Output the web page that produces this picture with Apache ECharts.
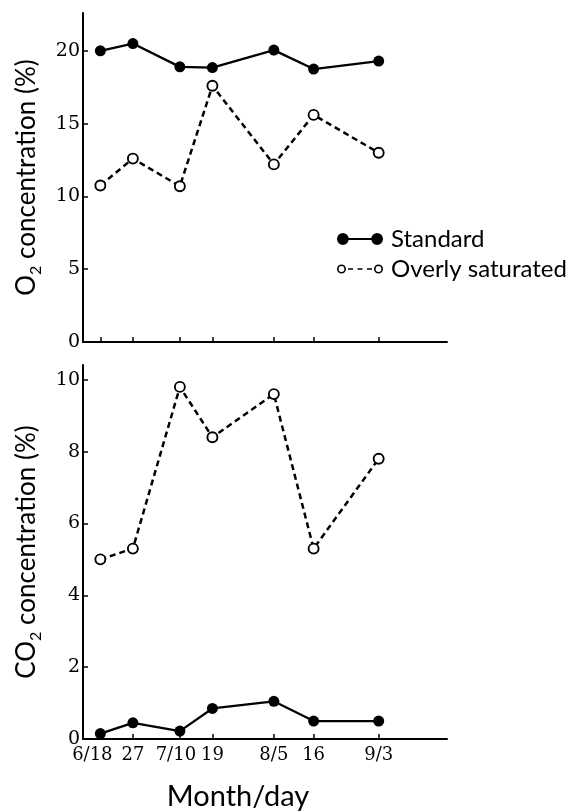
<!DOCTYPE html>
<html>
<head>
<meta charset="utf-8">
<script src="https://cdn.jsdelivr.net/npm/echarts@6/dist/echarts.min.js"></script>
<style>
  html, body { margin: 0; padding: 0; background: #fff; }
  #chart { width: 568px; height: 812px; }
</style>
</head>
<body>
<div id="chart"></div>
<script>
// Sampling dates (days counted from 6/18) and their axis labels
const sampleDays = [0, 9, 22, 31, 48, 59, 77];
const dateLabels = ['6/18', '27', '7/10', '19', '8/5', '16', '9/3'];

// O2 concentration (%)
const o2Standard = [20.0, 20.5, 18.9, 18.85, 20.05, 18.75, 19.3];
const o2Saturated = [10.75, 12.6, 10.7, 17.6, 12.2, 15.6, 13.0];

// CO2 concentration (%)
const co2Standard = [0.15, 0.45, 0.22, 0.85, 1.05, 0.5, 0.5];
const co2Saturated = [5.0, 5.3, 9.8, 8.4, 9.6, 5.3, 7.8];

// Tick values on the two y axes
const o2Ticks = [0, 5, 10, 15, 20];
const co2Ticks = [0, 2, 4, 6, 8, 10];

const SERIF = 'DejaVu Serif';
const SANS = 'Lato';

const pairs = (ys) => sampleDays.map((d, i) => [d, ys[i]]);

// Month-start labels sit a little left of their tick
const shiftLeft = { '6/18': 'a', '7/10': 'b' };
const dateLabelOf = (v) => {
  const i = sampleDays.indexOf(v);
  if (i < 0) return '';
  const txt = dateLabels[i];
  return shiftLeft[txt] ? '{' + shiftLeft[txt] + '|' + txt + '}' : '{n|' + txt + '}';
};

const axisLine = { show: true, onZero: false, lineStyle: { color: '#000', width: 2 } };
const tickStyle = { inside: true, length: 5, lineStyle: { color: '#000', width: 1.5 } };
const serifLabel = { fontFamily: SERIF, fontSize: 18, color: '#000' };

function xAxisFor(gridIndex, withLabels) {
  return {
    type: 'value', gridIndex, min: -4.8, max: 95.9,
    axisLine,
    splitLine: { show: false },
    axisTick: Object.assign({ customValues: sampleDays }, tickStyle),
    axisLabel: {
      show: withLabels, customValues: sampleDays, formatter: dateLabelOf,
      color: '#000', fontFamily: SERIF, fontSize: 18, margin: 7,
      rich: {
        n: serifLabel,
        a: Object.assign({ padding: [0, 16, 0, 0] }, serifLabel),
        b: Object.assign({ padding: [0, 8, 0, 0] }, serifLabel)
      }
    },
    name: withLabels ? 'Month/day' : '',
    nameLocation: 'middle', nameGap: 43,
    nameTextStyle: { color: '#000', fontFamily: SANS, fontSize: 29, padding: [0, 54, 0, 0] }
  };
}

function yAxisFor(gridIndex, max, ticks, gas) {
  return {
    type: 'value', gridIndex, min: 0, max,
    axisLine,
    splitLine: { show: false },
    axisTick: Object.assign({ customValues: ticks }, tickStyle),
    axisLabel: {
      customValues: ticks, color: '#000', fontFamily: SERIF, fontSize: 19, margin: 3
    },
    name: '{t|' + gas + '}{s|2}{t| concentration (%)}',
    nameLocation: 'middle', nameRotate: 90, nameGap: 39,
    nameTextStyle: {
      color: '#000',
      rich: {
        t: { fontFamily: SANS, fontSize: 26, lineHeight: 34, color: '#000' },
        s: { fontFamily: SANS, fontSize: 16, lineHeight: 16, verticalAlign: 'bottom', color: '#000' }
      }
    }
  };
}

function standardSeries(xi, yi, data) {
  return {
    name: 'Standard', type: 'line', xAxisIndex: xi, yAxisIndex: yi,
    data: pairs(data),
    symbol: 'circle', symbolSize: 11,
    itemStyle: { color: '#000' },
    lineStyle: { color: '#000', width: 2.3 },
    emphasis: { disabled: true }, z: 3
  };
}

function saturatedSeries(xi, yi, data) {
  return {
    name: 'Overly saturated', type: 'line', xAxisIndex: xi, yAxisIndex: yi,
    data: pairs(data),
    symbol: 'circle', symbolSize: 10,
    itemStyle: { color: '#fff', borderColor: '#000', borderWidth: 1.9 },
    lineStyle: { color: '#000', width: 2.5, type: [6, 4] },
    emphasis: { disabled: true }, z: 2
  };
}

// Legend icons: solid line between two filled dots, dashed line between two rings
const iconSolid = 'path://M0.5,6A5.5,5.5 0 1,1 11.5,6A5.5,5.5 0 1,1 0.5,6Z' +
  'M32.5,6A5.5,5.5 0 1,1 43.5,6A5.5,5.5 0 1,1 32.5,6Z' +
  'M6,5L38,5L38,7L6,7Z';
const iconDashed = 'path://M0,6A4.5,4.5 0 1,1 9,6A4.5,4.5 0 1,1 0,6Z' +
  'M1.6,6A2.9,2.9 0 1,0 7.4,6A2.9,2.9 0 1,0 1.6,6Z' +
  'M37,6A4.5,4.5 0 1,1 46,6A4.5,4.5 0 1,1 37,6Z' +
  'M38.6,6A2.9,2.9 0 1,0 44.4,6A2.9,2.9 0 1,0 38.6,6Z' +
  'M11,5.2L16,5.2L16,6.8L11,6.8Z' +
  'M20.5,5.2L25.5,5.2L25.5,6.8L20.5,6.8Z' +
  'M30,5.2L35,5.2L35,6.8L30,6.8Z';

const chart = echarts.init(document.getElementById('chart'), null, { renderer: 'canvas' });

chart.setOption({
  backgroundColor: '#fff',
  animation: false,
  grid: [
    { left: 83, right: 121, top: 13, bottom: 470 },
    { left: 83, right: 121, top: 365, bottom: 69 }
  ],
  xAxis: [xAxisFor(0, false), xAxisFor(1, true)],
  yAxis: [yAxisFor(0, 22.6, o2Ticks, 'O'), yAxisFor(1, 10.41, co2Ticks, 'CO')],
  legend: {
    orient: 'vertical', left: 332, top: 222,
    itemWidth: 46, itemHeight: 12, itemGap: 6,
    selectedMode: false,
    textStyle: { color: '#000', fontFamily: SANS, fontSize: 24, padding: [0, 0, 0, 3] },
    data: [
      { name: 'Standard', icon: iconSolid, itemStyle: { color: '#000', borderWidth: 0 } },
      { name: 'Overly saturated', icon: iconDashed, itemStyle: { color: '#000', borderWidth: 0 } }
    ]
  },
  series: [
    standardSeries(0, 0, o2Standard),
    saturatedSeries(0, 0, o2Saturated),
    standardSeries(1, 1, co2Standard),
    saturatedSeries(1, 1, co2Saturated)
  ]
});
</script>
</body>
</html>
